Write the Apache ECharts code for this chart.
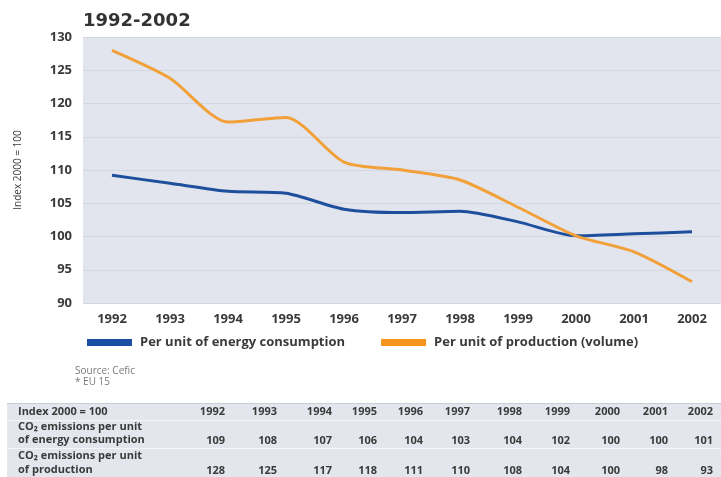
<!DOCTYPE html>
<html>
<head>
<meta charset="utf-8">
<script src="https://cdn.jsdelivr.net/npm/echarts@6/dist/echarts.min.js"></script>
<style>
  html, body { margin: 0; padding: 0; background: #ffffff; }
  #chart { width: 721px; height: 477px; }
</style>
</head>
<body>
<div id="chart"></div>
<script>
// ---- Data ----
var years = ['1992','1993','1994','1995','1996','1997','1998','1999','2000','2001','2002'];
var energyLine = [109.2, 108.0, 106.8, 106.5, 104.1, 103.6, 103.8, 102.2, 100.1, 100.4, 100.7];
var productionLine = [128.0, 123.8, 117.2, 117.9, 111.2, 110.0, 108.5, 104.4, 100.1, 97.7, 93.2];
var seriesNames = ['Per unit of energy consumption', 'Per unit of production (volume)'];
var yTicks = { min: 90, max: 130, interval: 5 };
var chartTitle = '1992-2002';
var yAxisName = 'Index 2000 = 100';
var sourceNotes = ['Source: Cefic', '* EU 15'];
var tableHeader = 'Index 2000 = 100';
var tableRowLabels = [
  ['CO\u2082 emissions per unit', 'of energy consumption'],
  ['CO\u2082 emissions per unit', 'of production']
];
var tableEnergy = [109, 108, 107, 106, 104, 103, 104, 102, 100, 100, 101];
var tableProduction = [128, 125, 117, 118, 111, 110, 108, 104, 100, 98, 93];

// ---- Layout helpers (positions only) ----
var colRight = [225, 277, 332, 377, 423, 470, 522, 570, 620, 668, 713];
var FONT = '"Open Sans", "DejaVu Sans", sans-serif';
var txtColor = '#3a3a3a';

function tableGraphics() {
  var els = [];
  els.push({ type: 'rect', shape: { x: 7, y: 403, width: 714, height: 74 }, style: { fill: '#e3e6ed' }, silent: true });
  els.push({ type: 'line', shape: { x1: 7, y1: 403.5, x2: 721, y2: 403.5 }, style: { stroke: '#c9cdd6', lineWidth: 1 } });
  els.push({ type: 'line', shape: { x1: 7, y1: 420.5, x2: 721, y2: 420.5 }, style: { stroke: '#f6f7fa', lineWidth: 1 } });
  els.push({ type: 'line', shape: { x1: 7, y1: 448.5, x2: 721, y2: 448.5 }, style: { stroke: '#f6f7fa', lineWidth: 1 } });
  var ts = function (text, x, y, align) {
    return { type: 'text', x: x, y: y, style: { text: text, fill: txtColor, font: 'bold 11px ' + FONT, align: align || 'left', verticalAlign: 'middle' } };
  };
  els.push(ts(tableHeader, 18, 412));
  els.push(ts(tableRowLabels[0][0], 18, 427));
  els.push(ts(tableRowLabels[0][1], 18, 440));
  els.push(ts(tableRowLabels[1][0], 18, 456));
  els.push(ts(tableRowLabels[1][1], 18, 470));
  for (var i = 0; i < years.length; i++) {
    els.push(ts(years[i], colRight[i], 412, 'right'));
    els.push(ts(String(tableEnergy[i]), colRight[i], 441, 'right'));
    els.push(ts(String(tableProduction[i]), colRight[i], 471, 'right'));
  }
  els.push({ type: 'text', x: 75, y: 371, style: { text: sourceNotes[0], fill: '#7a7a7a', font: '10px ' + FONT, verticalAlign: 'middle' } });
  els.push({ type: 'text', x: 75, y: 382, style: { text: sourceNotes[1], fill: '#7a7a7a', font: '10px ' + FONT, verticalAlign: 'middle' } });
  return els;
}

var chart = echarts.init(document.getElementById('chart'), null, { renderer: 'canvas' });
chart.setOption({
  animation: false,
  backgroundColor: '#ffffff',
  title: {
    text: chartTitle, left: 83, top: 12, padding: 0,
    textStyle: { fontFamily: '"DejaVu Sans", sans-serif', fontWeight: 'bold', fontSize: 18, color: '#333333' }
  },
  legend: {
    left: 82, top: 331, itemWidth: 45, itemHeight: 7, itemGap: 36, icon: 'rect',
    textStyle: { fontFamily: FONT, fontWeight: 'bold', fontSize: 13, color: txtColor, padding: [0, 0, 0, 3] },
    data: [
      { name: seriesNames[0], itemStyle: { color: '#1b4fa6' } },
      { name: seriesNames[1], itemStyle: { color: '#f7941d' } }
    ]
  },
  grid: {
    left: 83, top: 37, bottom: 174, right: -11,
    show: true, backgroundColor: '#e2e5ed', borderWidth: 0
  },
  xAxis: {
    type: 'category', data: years, boundaryGap: true,
    axisLine: { show: false }, axisTick: { show: false },
    axisLabel: { margin: 10, fontFamily: FONT, fontWeight: 'bold', fontSize: 13, color: txtColor },
    splitLine: { show: false }
  },
  yAxis: {
    type: 'value', min: yTicks.min, max: yTicks.max, interval: yTicks.interval,
    name: yAxisName, nameLocation: 'middle', nameGap: 60, nameRotate: 90,
    nameTextStyle: { fontFamily: FONT, fontSize: 10, color: txtColor },
    axisLine: { show: false }, axisTick: { show: false },
    axisLabel: { margin: 11, fontFamily: FONT, fontWeight: 'bold', fontSize: 13, color: txtColor },
    splitLine: { show: true, lineStyle: { color: '#d3d7e0', width: 1 } }
  },
  series: [
    {
      name: seriesNames[0], type: 'line', data: energyLine, smooth: 0.25,
      showSymbol: false, symbol: 'none',
      lineStyle: { color: '#1e4f9d', width: 3 }, itemStyle: { color: '#1b4fa6' }
    },
    {
      name: seriesNames[1], type: 'line', data: productionLine, smooth: 0.25,
      showSymbol: false, symbol: 'none',
      lineStyle: { color: '#f1a03a', width: 3 }, itemStyle: { color: '#f7941d' }
    }
  ],
  graphic: tableGraphics()
});
</script>
</body>
</html>
